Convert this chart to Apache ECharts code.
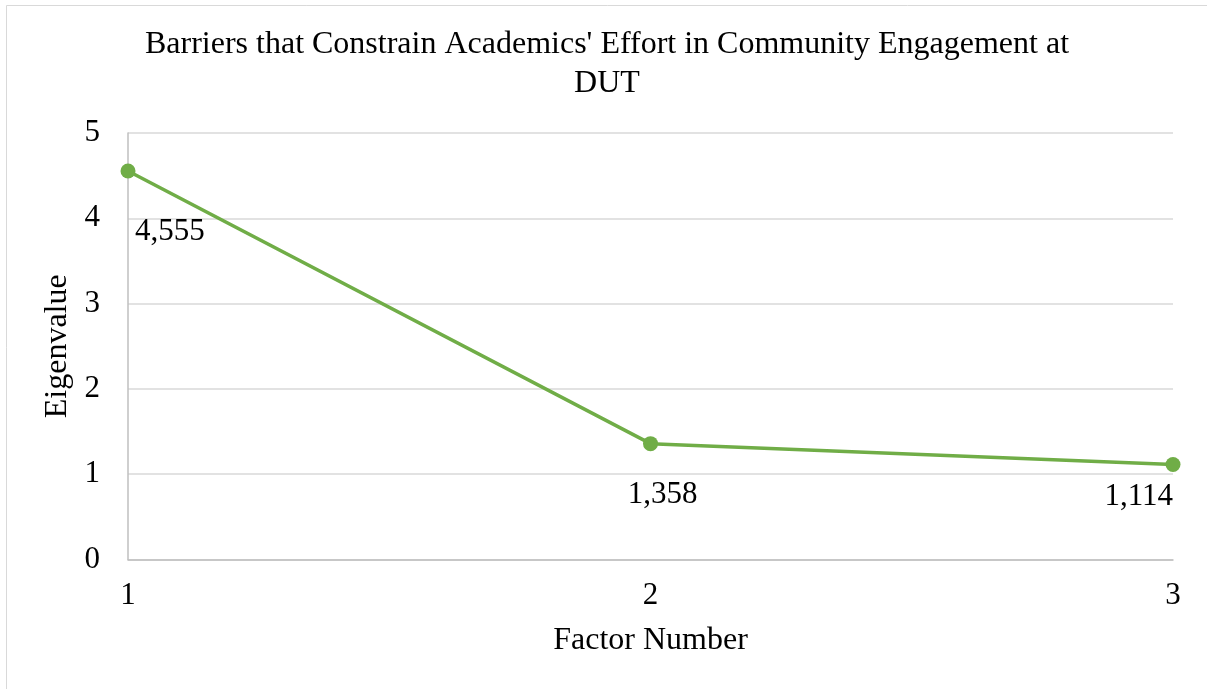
<!DOCTYPE html>
<html>
<head>
<meta charset="utf-8">
<title>Scree plot</title>
<script src="https://cdn.jsdelivr.net/npm/echarts@6/dist/echarts.min.js"></script>
<style>
  html, body { margin: 0; padding: 0; background: #ffffff; }
  #chart { width: 1207px; height: 689px; }
</style>
</head>
<body>
<div id="chart"></div>
<script>
// Eigenvalues of the extracted factors
const factorNumbers = [1, 2, 3];
const eigenvalues = [4.555, 1.358, 1.114];
const valueLabels = ['4,555', '1,358', '1,114'];
const yTicks = [0, 1, 2, 3, 4, 5];

const serif = '"Liberation Serif", "Times New Roman", serif';
const green = '#70AD47';

// per-point label placement around each marker
const labelPlacement = [
  { align: 'left', offset: [7, 61] },
  { align: 'center', offset: [12, 51] },
  { align: 'right', offset: [0, 32] }
];

const seriesData = factorNumbers.map((f, i) => ({
  value: [f, eigenvalues[i]],
  label: {
    show: true,
    position: 'inside',
    align: labelPlacement[i].align,
    verticalAlign: 'middle',
    offset: labelPlacement[i].offset,
    formatter: valueLabels[i]
  }
}));

const chart = echarts.init(document.getElementById('chart'), null, { renderer: 'canvas' });

chart.setOption({
  backgroundColor: '#ffffff',
  animation: false,
  graphic: [{
    type: 'rect',
    shape: { x: 6.5, y: 5.5, width: 1300, height: 800 },
    style: { fill: 'none', stroke: '#D9D9D9', lineWidth: 1 },
    silent: true
  }],
  title: {
    text: "Barriers that Constrain Academics' Effort in Community Engagement at\nDUT",
    left: 607,
    top: 25,
    padding: 0,
    textAlign: 'center',
    textStyle: {
      fontFamily: serif,
      fontSize: 32,
      fontWeight: 'normal',
      lineHeight: 39,
      color: '#000000'
    }
  },
  grid: {
    left: 128,
    top: 133,
    width: 1045,
    height: 426.5,
    containLabel: false
  },
  xAxis: {
    type: 'value',
    min: 1,
    max: 3,
    interval: 1,
    name: 'Factor Number',
    nameLocation: 'middle',
    nameGap: 65,
    nameTextStyle: { fontFamily: serif, fontSize: 32, color: '#000000' },
    axisLine: { show: true, lineStyle: { color: '#BFBFBF', width: 1.5 } },
    axisTick: { show: false },
    splitLine: { show: false },
    axisLabel: {
      margin: 21,
      fontFamily: serif,
      fontSize: 31,
      color: '#000000',
      formatter: v => String(v)
    }
  },
  yAxis: {
    type: 'value',
    min: yTicks[0],
    max: yTicks[yTicks.length - 1],
    interval: 1,
    name: 'Eigenvalue',
    nameLocation: 'middle',
    nameRotate: 90,
    nameGap: 51,
    nameTextStyle: { fontFamily: serif, fontSize: 32, color: '#000000' },
    axisLine: { show: true, lineStyle: { color: '#BFBFBF', width: 1.5 } },
    axisTick: { show: false },
    splitLine: { show: true, lineStyle: { color: '#D9D9D9', width: 1.5 } },
    axisLabel: {
      margin: 28,
      fontFamily: serif,
      fontSize: 31,
      color: '#000000'
    }
  },
  series: [{
    type: 'line',
    data: seriesData,
    symbol: 'circle',
    symbolSize: 15,
    lineStyle: { color: green, width: 3.5 },
    itemStyle: { color: green },
    label: {
      fontFamily: serif,
      fontSize: 31,
      color: '#000000'
    },
    z: 5
  }]
});
</script>
</body>
</html>
